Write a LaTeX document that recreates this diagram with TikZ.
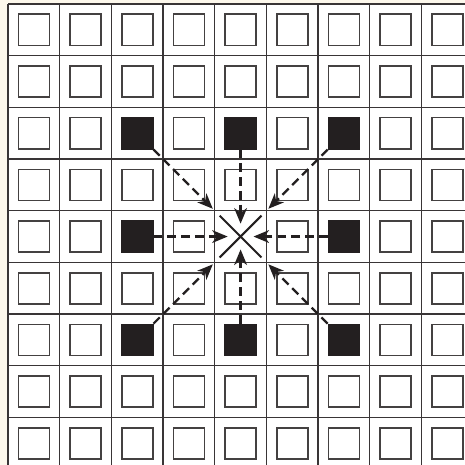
\documentclass[tikz,border=0pt]{standalone}
\usetikzlibrary{arrows.meta,shapes.misc}
\definecolor{paper}{RGB}{253,248,236}
\definecolor{ink}{RGB}{35,31,32}

\begin{document}
\begin{tikzpicture}[
  cell/.style={draw=ink!85, line width=0.9pt, rectangle, minimum size=0.6cm, inner sep=0pt, fill=white},
  src/.style={cell, fill=ink, draw=ink},
  gridline/.style={ink!90, line width=0.7pt},
  feed/.style={-{Stealth[length=8.5pt, width=7pt, inset=2.5pt]}, ink, line width=1.25pt, dash pattern=on 4.8pt off 2.8pt},
  hub/.style={cross out, draw=ink, line width=1.1pt, minimum size=0.77cm, inner sep=0pt}
]
\useasboundingbox (-0.155,0.077) rectangle (8.84,-8.92);
\fill[paper] (-0.155,0.077) rectangle (8.84,-8.92);
\fill[white] (0,0) rectangle (8.84,-8.92);

% grid
\foreach \k in {0,...,8} {
  \draw[gridline] (\k,0) -- (\k,-8.92);
  \draw[gridline] (0,-\k) -- (8.84,-\k);
}

% cells, the middle one stays empty
\foreach \i in {0,...,8} {
  \foreach \j in {0,...,8} {
    \ifnum\numexpr\i*10+\j\relax=44 \else
      \node[cell] (sq-\i-\j) at (\i+0.5,-\j-0.5) {};
    \fi
  }
}

% sources
\foreach \i/\j in {2/2,4/2,6/2,2/4,6/4,2/6,4/6,6/6}
  \node[src] (sq-\i-\j) at (\i+0.5,-\j-0.5) {};

\node[hub] (hub) at (4.5,-4.5) {};

% arrows into the middle
\foreach \i/\j/\gap in {2/2/7.6mm, 4/2/2.5mm, 6/2/7.6mm, 2/4/2.5mm, 6/4/2.5mm, 2/6/7.6mm, 4/6/2.5mm, 6/6/7.6mm}
  \draw[feed, shorten >=\gap] (sq-\i-\j) -- (hub.center);
\end{tikzpicture}
\end{document}
